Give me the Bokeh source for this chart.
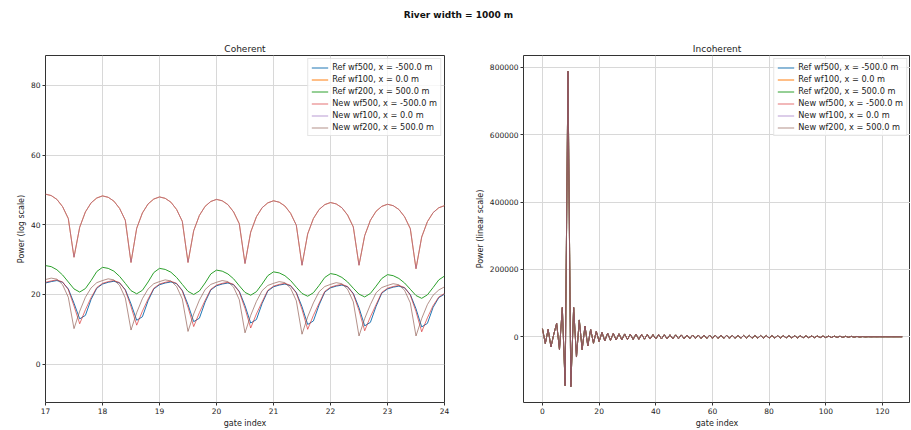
import numpy as np
from bokeh.plotting import figure
from bokeh.models import Range1d, FixedTicker, BasicTickFormatter, Label
from bokeh.layouts import column, row
from bokeh.embed import file_html
from bokeh.resources import INLINE

FONT = "DejaVu Sans"

# ---------------- data ----------------
suptitle = "River width = 1000 m"
titles = ["Coherent", "Incoherent"]
series_labels = ["Ref wf500, x = -500.0 m", "Ref wf100, x = 0.0 m", "Ref wf200, x = 500.0 m",
                 "New wf500, x = -500.0 m", "New wf100, x = 0.0 m", "New wf200, x = 500.0 m"]
colors = ["#1f77b4", "#ff7f0e", "#2ca02c", "#d62728", "#9467bd", "#8c564b"]

# coherent: gate index 17.0 ... 24.0 (step 0.1)
coh_gate = np.round(np.arange(17.0, 24.0001, 0.1), 1)

coh_ref_xm500 = [23.3, 23.7, 24.0, 23.5, 21.6, 17.5, 13.0, 14.0, 18.6, 21.8,
                 23.0, 23.5, 23.8, 23.3, 21.4, 17.3, 12.6, 13.6, 18.2, 21.6,
                 22.8, 23.3, 23.6, 23.1, 21.2, 17.1, 12.2, 13.2, 17.8, 21.3,
                 22.5, 23.0, 23.3, 22.8, 20.9, 16.8, 11.8, 12.8, 17.4, 21.0,
                 22.2, 22.7, 23.0, 22.5, 20.6, 16.5, 11.4, 12.4, 17.0, 20.7,
                 21.9, 22.4, 22.7, 22.2, 20.3, 16.2, 11.0, 12.0, 16.6, 20.4,
                 21.6, 22.1, 22.4, 21.9, 20.0, 15.9, 10.7, 11.7, 16.3, 19.1,
                 20.1]
coh_ref_x0 = [48.8, 48.4, 47.3, 45.2, 41.8, 30.7, 39.3, 43.7, 46.3, 47.7,
              48.3, 47.9, 46.8, 44.7, 41.3, 29.2, 39.0, 43.4, 46.0, 47.4,
              48.0, 47.6, 46.5, 44.4, 41.0, 29.2, 38.3, 42.7, 45.3, 46.7,
              47.3, 46.9, 45.8, 43.7, 40.3, 28.9, 37.9, 42.3, 44.9, 46.3,
              46.9, 46.5, 45.4, 43.3, 39.9, 28.4, 37.4, 41.8, 44.4, 45.8,
              46.4, 46.0, 44.9, 42.8, 39.4, 28.4, 36.9, 41.3, 43.9, 45.3,
              45.9, 45.5, 44.4, 42.3, 38.9, 27.4, 36.5, 40.9, 43.5, 44.9,
              45.5]
coh_ref_x500 = [28.3, 28.0, 27.1, 25.6, 23.6, 21.6, 20.7, 21.7, 24.0, 26.6,
                27.8, 27.5, 26.7, 25.2, 23.2, 21.1, 20.2, 21.2, 23.6, 26.3,
                27.5, 27.2, 26.4, 24.9, 22.9, 20.9, 20.0, 21.0, 23.3, 25.9,
                27.0, 26.7, 25.9, 24.5, 22.5, 20.6, 19.8, 20.8, 23.0, 25.4,
                26.5, 26.2, 25.4, 24.0, 22.1, 20.3, 19.5, 20.5, 22.6, 24.9,
                26.0, 25.7, 24.9, 23.6, 21.8, 20.1, 19.3, 20.3, 22.4, 24.6,
                25.7, 25.4, 24.6, 23.3, 21.5, 19.7, 18.9, 19.9, 22.0, 24.2,
                25.3]
coh_new_xm500 = [23.5, 23.9, 24.2, 23.6, 21.4, 16.7, 11.6, 15.6, 19.1, 22.0,
                 23.2, 23.7, 24.0, 23.4, 21.2, 16.5, 11.2, 15.2, 18.7, 21.8,
                 23.0, 23.5, 23.8, 23.2, 21.0, 16.3, 10.8, 14.8, 18.3, 21.5,
                 22.7, 23.2, 23.5, 22.9, 20.7, 16.0, 10.4, 14.4, 17.9, 21.2,
                 22.4, 22.9, 23.2, 22.6, 20.4, 15.7, 10.0, 14.0, 17.5, 20.9,
                 22.1, 22.6, 22.9, 22.3, 20.1, 15.4, 9.6, 13.6, 17.1, 20.6,
                 21.8, 22.3, 22.6, 22.0, 19.8, 15.1, 9.3, 13.3, 16.8, 19.3,
                 20.3]
coh_new_x0 = [48.8, 48.4, 47.3, 45.2, 41.8, 30.7, 39.3, 43.7, 46.3, 47.7,
              48.3, 47.9, 46.8, 44.7, 41.3, 29.2, 39.0, 43.4, 46.0, 47.4,
              48.0, 47.6, 46.5, 44.4, 41.0, 29.2, 38.3, 42.7, 45.3, 46.7,
              47.3, 46.9, 45.8, 43.7, 40.3, 28.9, 37.9, 42.3, 44.9, 46.3,
              46.9, 46.5, 45.4, 43.3, 39.9, 28.4, 37.4, 41.8, 44.4, 45.8,
              46.4, 46.0, 44.9, 42.8, 39.4, 28.4, 36.9, 41.3, 43.9, 45.3,
              45.9, 45.5, 44.4, 42.3, 38.9, 27.4, 36.5, 40.9, 43.5, 44.9,
              45.5]
coh_new_x500 = [24.3, 24.7, 24.4, 22.8, 19.2, 10.2, 15.2, 19.2, 21.9, 23.4,
                24.0, 24.5, 24.2, 22.6, 19.0, 9.8, 14.8, 18.8, 21.6, 23.1,
                23.7, 24.2, 23.9, 22.3, 18.7, 9.4, 14.4, 18.4, 21.4, 22.9,
                23.5, 24.0, 23.7, 22.1, 18.5, 9.0, 14.0, 18.0, 21.1, 22.6,
                23.2, 23.7, 23.4, 21.8, 18.2, 8.6, 13.6, 17.6, 20.8, 22.3,
                22.9, 23.4, 23.1, 21.5, 17.9, 8.1, 13.1, 17.1, 20.5, 22.0,
                22.6, 23.1, 22.8, 21.2, 17.6, 8.1, 13.1, 17.1, 19.8, 21.3,
                22.2]
coherent = [coh_ref_xm500, coh_ref_x0, coh_ref_x500, coh_new_xm500, coh_new_x0, coh_new_x500]

# incoherent: gate index 0 ... 127 (all six curves coincide)
incoh_gate = np.arange(128)
incoh_power = [24000, -20000, 22000, -30000, 8000, 40000, -38000, 87000, -145000, 788000,
               -148000, 87000, -60000, 50000, -38000, 32000, -27000, 22000, -19000, 16000,
               -14000, 13000, -12000, 11000, -10500, 10000, -9500, 9000, -8800, 8500,
               -8200, 8000, -7800, 7600, -7400, 7200, -7000, 6800, -6600, 6500,
               -6400, 6300, -6200, 6100, -6000, 5900, -5800, 5700, -5600, 5500,
               -5400, 5300, -5200, 5100, -5000, 4950, -4900, 4850, -4800, 4750,
               -4700, 4650, -4600, 4550, -4500, 4450, -4400, 4350, -4300, 4250,
               -4200, 4150, -4100, 4050, -4000, 3950, -3900, 3850, -3800, 3750,
               -3700, 3650, -3600, 3550, -3500, 3450, -3400, 3350, -3300, 3250,
               -3200, 3100, -3000, 2900, -2800, 2700, -2600, 2500, -2400, 2300,
               -2200, 2100, -2000, 1900, -1800, 1700, -1600, 1500, -1400, 1300,
               -1200, 1000, -800, 600, -400, 300, -200, 150, -100, 80,
               -60, 50, -40, 30, -20, 10, -5, 0]
incoherent = [incoh_power] * 6

coh_xticks = [17, 18, 19, 20, 21, 22, 23, 24]
coh_yticks = [0, 20, 40, 60, 80]
incoh_xticks = [0, 20, 40, 60, 80, 100, 120]
incoh_yticks = [0, 200000, 400000, 600000, 800000]
alphas = [1.0, 1.0, 1.0, 0.65, 0.65, 0.65]


def style(p, title, xlabel, ylabel, xticks, yticks):
    p.title.text = title
    p.title.align = "center"
    p.title.text_font = FONT
    p.title.text_font_size = "9px"
    p.title.text_font_style = "normal"
    p.title.text_color = "#222222"
    p.title.standoff = 3
    p.outline_line_color = "#333333"
    p.outline_line_width = 1
    p.xgrid.grid_line_color = "#d8d8d8"
    p.ygrid.grid_line_color = "#d8d8d8"
    p.xaxis.axis_label = xlabel
    p.yaxis.axis_label = ylabel
    p.xaxis.ticker = FixedTicker(ticks=xticks)
    p.yaxis.ticker = FixedTicker(ticks=yticks)
    for ax in p.xaxis + p.yaxis:
        ax.axis_line_color = None
        ax.major_tick_out = 3
        ax.major_tick_in = 0
        ax.minor_tick_out = 0
        ax.minor_tick_in = 0
        ax.major_tick_line_color = "#333333"
        ax.major_label_text_font = FONT
        ax.major_label_text_font_size = "7.5px"
        ax.major_label_text_color = "#222222"
        ax.major_label_standoff = 2
        ax.axis_label_text_font = FONT
        ax.axis_label_text_font_size = "8px"
        ax.axis_label_text_font_style = "normal"
        ax.axis_label_text_color = "#222222"
        ax.axis_label_standoff = 2
    p.legend.location = "top_right"
    p.legend.label_text_font = FONT
    p.legend.label_text_font_size = "8.2px"
    p.legend.label_text_color = "#222222"
    p.legend.glyph_width = 17
    p.legend.glyph_height = 9
    p.legend.label_height = 9
    p.legend.label_standoff = 4
    p.legend.spacing = 2
    p.legend.padding = 3
    p.legend.margin = 3
    p.legend.border_line_color = "#cccccc"
    p.legend.background_fill_alpha = 0.8


# header with suptitle
head = figure(width=910, height=40, output_backend="svg", toolbar_location=None,
              x_axis_type=None, y_axis_type=None, x_range=Range1d(0, 910), y_range=Range1d(0, 40),
              min_border=0, outline_line_color=None)
head.grid.visible = False
head.add_layout(Label(x=458, y=26, text=suptitle, text_font=FONT, text_font_size="9px",
                      text_font_style="bold", text_align="center", text_baseline="middle",
                      text_color="#111111"))

p1 = figure(width=470, height=390, output_backend="svg", toolbar_location=None,
            x_range=Range1d(17, 24), y_range=Range1d(-11, 88.6),
            min_border_left=45, min_border_right=26, min_border_top=0, min_border_bottom=0)
for lab, col, ys, a in zip(series_labels, colors, coherent, alphas):
    p1.line(coh_gate, ys, line_color=col, line_width=1.0, line_alpha=a, legend_label=lab)
style(p1, titles[0], "gate index", "Power (log scale)", coh_xticks, coh_yticks)

p2 = figure(width=440, height=390, output_backend="svg", toolbar_location=None,
            x_range=Range1d(-6.7, 129.9), y_range=Range1d(-195000, 835000),
            min_border_left=53, min_border_right=0, min_border_top=0, min_border_bottom=0)
for lab, col, ys, a in zip(series_labels, colors, incoherent, alphas):
    p2.line(incoh_gate, ys, line_color=col, line_width=1.0, line_alpha=a, legend_label=lab)
style(p2, titles[1], "gate index", "Power (linear scale)", incoh_xticks, incoh_yticks)
p2.yaxis.formatter = BasicTickFormatter(use_scientific=False)

layout = column(head, row(p1, p2))
open("out.html", "w").write(file_html(layout, INLINE))
